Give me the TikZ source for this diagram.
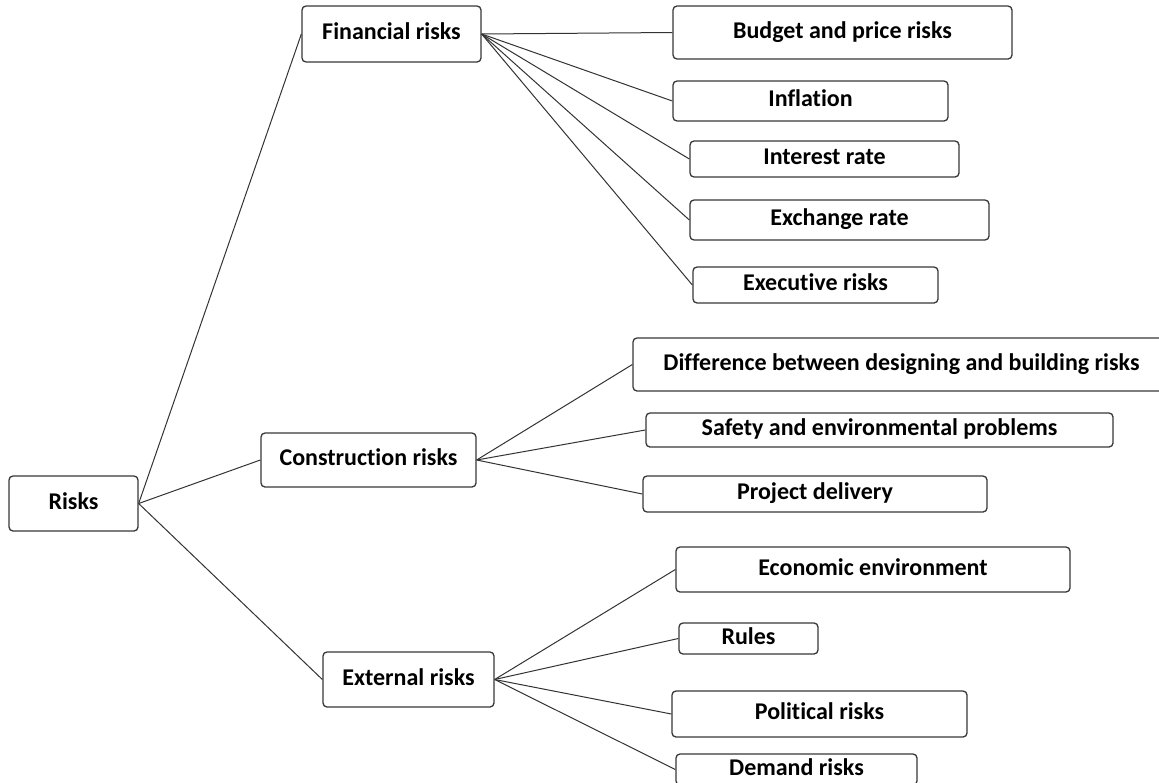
\documentclass[tikz,border=0pt]{standalone}
\usepackage{fontspec}
\setmainfont{Carlito}[Ligatures=CommonOff]
\begin{document}
\begin{tikzpicture}[x=1pt,y=-1pt,
  box/.style={draw=black!78, line width=1.3pt, rounded corners=4pt, inner sep=0pt,
    text height=16pt, text depth=5pt, font=\fontsize{24}{28}\selectfont\bfseries, anchor=center},
  link/.style={draw=black!80, line width=1pt}]
\useasboundingbox (0,0) rectangle (1159,782);
\node[box, minimum width=129pt, minimum height=55pt] (risks) at (73.5,503.5) {Risks};
\node[box, minimum width=179pt, minimum height=56pt] (fin) at (391.5,34) {Financial risks};
\node[box, minimum width=339pt, minimum height=53pt] (budget) at (842.5,32.5) {Budget and price risks};
\node[box, minimum width=275pt, minimum height=40pt] (infl) at (810.5,101) {Inflation};
\node[box, minimum width=269pt, minimum height=36pt] (interest) at (824.5,159) {Interest rate};
\node[box, minimum width=299pt, minimum height=40pt] (exch) at (839.5,220) {Exchange rate};
\node[box, minimum width=245pt, minimum height=36pt] (exec) at (815.5,285) {Executive risks};
\node[box, minimum width=215pt, minimum height=54pt] (constr) at (368.5,460) {Construction risks};
\node[box, minimum width=537pt, minimum height=53pt] (diff) at (901.5,364.5) {Difference between designing and building risks\hspace{19pt}};
\node[box, minimum width=467pt, minimum height=34pt] (safety) at (879.5,430) {Safety and environmental problems};
\node[box, minimum width=344pt, minimum height=36pt] (project) at (815,494) {Project delivery};
\node[box, minimum width=171pt, minimum height=55pt] (ext) at (408.5,679.5) {External risks};
\node[box, minimum width=394pt, minimum height=45pt] (econ) at (873,569.5) {Economic environment};
\node[box, minimum width=139pt, minimum height=31pt] (rules) at (748.5,638.5) {Rules};
\node[box, minimum width=295pt, minimum height=46pt] (political) at (819.5,714) {Political risks};
\node[box, minimum width=241pt, minimum height=31pt] (demand) at (796.5,769.5) {Demand risks};
\draw[link] (risks.east) -- (fin.west);
\draw[link] (risks.east) -- (constr.west);
\draw[link] (risks.east) -- (ext.west);
\foreach \c in {budget,infl,interest,exch,exec} \draw[link] (fin.east) -- (\c.west);
\foreach \c in {diff,safety,project} \draw[link] (constr.east) -- (\c.west);
\foreach \c in {econ,rules,political,demand} \draw[link] (ext.east) -- (\c.west);
\end{tikzpicture}
\end{document}
